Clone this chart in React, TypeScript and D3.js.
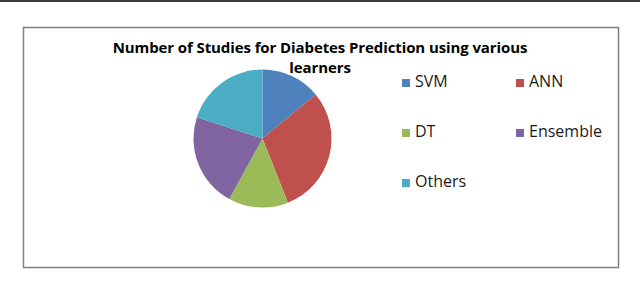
import React, { useRef, useEffect } from "react";
import * as d3 from "d3";

// Learner categories and number of studies
const learners = ["SVM", "ANN", "DT", "Ensemble", "Others"];
const studies = [7, 15, 7, 11, 10];
const colors = ["#4F81BD", "#C0504D", "#9BBB59", "#8064A2", "#4BACC6"];
const titleLines = ["Number of Studies for Diabetes Prediction using various", "learners"];

interface Slice {
  label: string;
  value: number;
  color: string;
}

export default function App() {
  const svgRef = useRef<SVGSVGElement>(null);
  const width = 640;
  const height = 285;

  useEffect(() => {
    if (!svgRef.current) return;
    const svg = d3.select(svgRef.current);
    svg.selectAll("*").remove();

    const data: Slice[] = learners.map((l, i) => ({
      label: l,
      value: studies[i],
      color: colors[i],
    }));

    // top rule across the page
    svg
      .append("line")
      .attr("x1", 0)
      .attr("x2", width)
      .attr("y1", 1)
      .attr("y2", 1)
      .attr("stroke", "#3a3a3a")
      .attr("stroke-width", 2);

    // chart frame
    svg
      .append("rect")
      .attr("x", 23.5)
      .attr("y", 27.5)
      .attr("width", 595)
      .attr("height", 240)
      .attr("fill", "white")
      .attr("stroke", "#808080")
      .attr("stroke-width", 1.5);

    // title
    svg
      .append("text")
      .attr("x", 320)
      .attr("y", 53)
      .attr("text-anchor", "middle")
      .attr("font-family", "'Open Sans', sans-serif")
      .attr("font-weight", "bold")
      .attr("font-size", "15px")
      .attr("letter-spacing", "-0.1px")
      .attr("fill", "#000")
      .selectAll("tspan")
      .data(titleLines)
      .join("tspan")
      .attr("x", 320)
      .attr("dy", (_, i) => (i === 0 ? 0 : 20))
      .text((d) => d);

    // pie
    const radius = 69;
    const g = svg.append("g").attr("transform", `translate(262.5,138.5)`);

    const pie = d3
      .pie<Slice>()
      .value((d) => d.value)
      .sort(null);

    const arc = d3.arc<d3.PieArcDatum<Slice>>().innerRadius(0).outerRadius(radius);

    g.selectAll("path")
      .data(pie(data))
      .join("path")
      .attr("d", arc)
      .attr("fill", (d) => d.data.color);

    // legend: two columns
    const legend = svg
      .append("g")
      .attr("font-family", "'Open Sans', sans-serif")
      .attr("font-size", "16px")
      .attr("fill", "#1a1a1a");

    const items = legend
      .selectAll("g")
      .data(data)
      .join("g")
      .attr("transform", (_, i) => `translate(${402 + (i % 2) * 114},${87 + Math.floor(i / 2) * 50})`);

    items
      .append("rect")
      .attr("x", 0)
      .attr("y", -8)
      .attr("width", 8)
      .attr("height", 8)
      .attr("fill", (d) => d.color);

    items
      .append("text")
      .attr("x", 13)
      .attr("y", 0)
      .text((d) => d.label);
  }, []);

  return (
    <div>
      <style>{`body{margin:0;background:#fff}`}</style>
      <svg ref={svgRef} width={width} height={height} style={{ display: "block" }}></svg>
    </div>
  );
}
